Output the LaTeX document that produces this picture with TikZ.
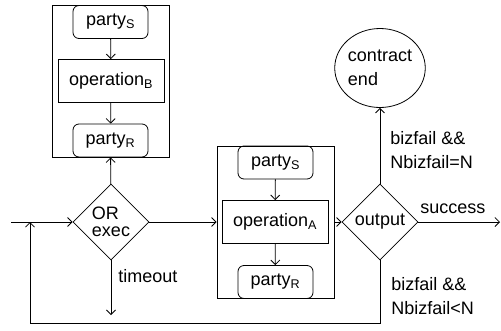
\documentclass[tikz,border=0pt]{standalone}
\usepackage{fontspec}
\setmainfont{Liberation Sans}
\usepackage{tikz}
\usetikzlibrary{arrows.meta,shapes}
\usetikzlibrary{positioning}
\usetikzlibrary{calc}
\tikzstyle{frame}=[draw,minimum width=117pt,minimum height=152pt,inner sep=0pt]
\tikzstyle{party}=[draw,rounded corners=6pt,minimum width=75pt,minimum height=33pt,inner sep=0pt]
\tikzstyle{operation}=[draw,minimum width=106pt,minimum height=43pt,inner sep=0pt]
\tikzstyle{decision}=[draw,diamond,minimum width=76pt,minimum height=76pt,inner sep=0pt,align=left]
\tikzstyle{edge} = [draw,-{Straight Barb[length=4.5pt,width=9pt]}]
\tikzstyle{cond} = [align=left,anchor=west,inner sep=0pt]

\begin{document}
\begin{tikzpicture}[x=1pt,y=-1pt,line width=0.8pt,
    font=\fontsize{18}{24}\selectfont]
    \useasboundingbox (0,0) rectangle (501,330);

    % the two blocks
    \foreach \pos/\name in {{(110.5,81)/boxB}, {(275.5,222)/boxA}}
        \node[frame] (\name) at \pos {};
    \foreach \pos/\name/\txt in {{(110.5,22)/partySB/S}, {(110.5,140.5)/partyRB/R},
                                 {(275.5,162.5)/partySA/S}, {(275.5,282)/partyRA/R}}
        \node[party] (\name) at \pos {party\textsubscript{\txt}};
    \node[operation] (opB) at (111,81) {operation\textsubscript{B}};
    \node[operation] (opA) at (275,222) {operation\textsubscript{A}};

    % decisions
    \node[decision,font=\fontsize{18}{17}\selectfont] (orexec) at (111,222) {OR\\exec};
    \node[decision] (output) at (380,222) {output};
    \node[draw,ellipse,minimum width=87pt,minimum height=79pt,inner sep=0pt,align=left]
        (cend) at (380,68) {contract\\end};

    \coordinate (in) at (11,222);
    \coordinate (back) at (30,222);
    \coordinate (down) at (111,315);
    \coordinate (succ) at (500,222);

    \foreach \source/\dest in {partySB/opB, opB/partyRB, partySA/opA, opA/partyRA,
                               in/orexec, orexec/partyRB, orexec/boxA, boxA/output,
                               output/cend, orexec/down, output/succ}
        \path[edge] (\source) -- (\dest);
    \path[edge] (output.south) |- (30,323) -- (back);

    % conditions
    \node[cond] (ctimeout) at (118,276) {timeout};
    \node[cond] (csucc) at (420,209) {success};
    \node[cond] (cend1) at (390,150) {bizfail \&\&\\Nbizfail=N};
    \node[cond] (cend2) at (391,296) {bizfail \&\&\\Nbizfail<N};
\end{tikzpicture}
\end{document}
